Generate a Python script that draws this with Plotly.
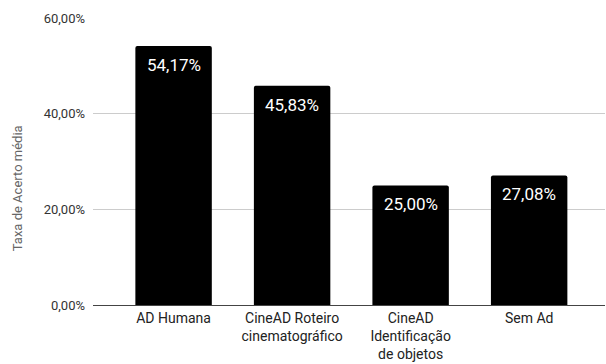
import plotly.graph_objects as go

categories = ["AD Humana", "CineAD Roteiro<br>cinematográfico", "CineAD<br>Identificação<br>de objetos", "Sem Ad"]
values = [0.5417, 0.4583, 0.2500, 0.2708]
y_ticks = [0, 0.2, 0.4, 0.6]
y_title = "Taxa de Acerto média"

def fmt(v):
    return f"{v*100:.2f}".replace(".", ",") + "%"

fig = go.Figure()
fig.add_trace(go.Bar(
    x=list(range(len(categories))),
    y=values,
    width=0.645,
    marker=dict(color="#000000", line=dict(width=0), cornerradius=2),
    hoverinfo="skip",
))

for i, v in enumerate(values):
    fig.add_annotation(
        x=i, y=v, xref="x", yref="y", text=fmt(v), showarrow=False,
        yanchor="top", yshift=-7,
        font=dict(family="Roboto", size=17, color="#ffffff"),
    )

plot_w = 606 - 93 - 1
fig.add_annotation(
    x=(17 - 93) / plot_w, xref="paper", xanchor="center",
    y=(305 - 188) / 287.5, yref="paper", yanchor="middle",
    text=y_title, textangle=-90,
    showarrow=False, font=dict(family="Roboto", size=13, color="#666666"),
)

fig.update_layout(
    width=606, height=364,
    margin=dict(l=93, r=1, t=17.5, b=59),
    paper_bgcolor="#ffffff", plot_bgcolor="#ffffff",
    separators=",.",
    showlegend=False,
    font=dict(family="Roboto", color="#222222"),
    xaxis=dict(
        range=[-0.68, 3.64],
        tickmode="array", tickvals=list(range(len(categories))), ticktext=categories,
        tickfont=dict(size=14, color="#222222"),
        showgrid=False, zeroline=False, showline=False, ticks="",
        ticklabelstandoff=3,
    ),
    yaxis=dict(
        range=[0, 0.6],
        tickmode="array", tickvals=y_ticks, tickformat=".2%",
        tickfont=dict(size=13, color="#333333"),
        showgrid=True, gridcolor="#cccccc", gridwidth=1,
        zeroline=True, zerolinecolor="#444444", zerolinewidth=1,
        showline=False, ticks="", ticklabelstandoff=7,
    ),
)

fig.write_html("out.html")
